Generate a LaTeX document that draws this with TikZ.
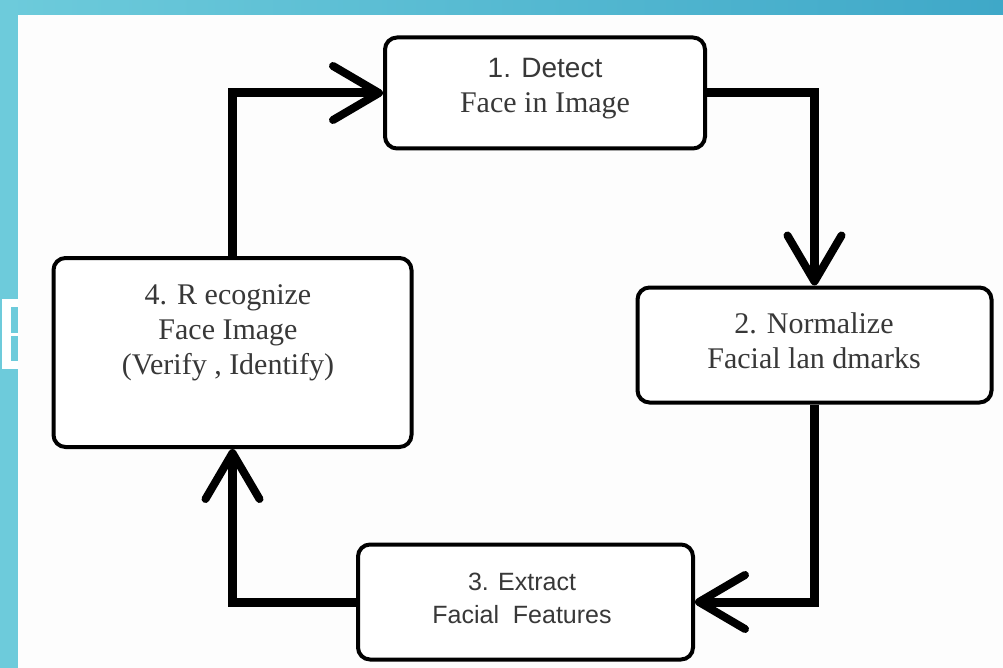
\documentclass[tikz,border=0pt]{standalone}
\usepackage{fontspec}
\setmainfont{Liberation Serif}
\newfontfamily\sansf{Liberation Sans}
\usetikzlibrary{arrows.meta}
\definecolor{tealL}{HTML}{6DCBDB}
\definecolor{tealR}{HTML}{3FA8C8}
\definecolor{txt}{HTML}{383838}
\definecolor{paper}{HTML}{FDFDFD}
\tikzset{
  box/.style={draw=black, line width=4pt, rounded corners=12pt, fill=white, inner sep=0pt},
  lbl/.style={text=txt, align=center, inner sep=0pt, font=\fontsize{30}{35}\selectfont},
  conn/.style={line width=9pt, line join=miter, draw=black,
    -{Straight Barb[length=46pt, width=54pt, line width=8pt, round]}}
}
\begin{document}
\begin{tikzpicture}[x=1pt,y=-1pt]
\useasboundingbox (0,0) rectangle (1003,668);
\fill[paper] (0,0) rectangle (1003,668);
\shade[left color=tealL, right color=tealR] (0,0) rectangle (1003,15);
\fill[tealL] (0,0) rectangle (18,668);
% white letter fragment at left edge
\fill[white] (2,299) rectangle (18,369);
\fill[tealL] (11,307) rectangle (18,333);
\fill[tealL] (11,336) rectangle (18,361);

\node[box, minimum width=320pt, minimum height=111pt] (n1) at (545,93) {};
\node[box, minimum width=354pt, minimum height=115pt] (n2) at (814.5,345) {};
\node[box, minimum width=335pt, minimum height=115pt] (n3) at (525.5,602) {};
\node[box, minimum width=358pt, minimum height=189pt] (n4) at (232.5,352.5) {};

\node[lbl] (t1) at (545,89) {{\sansf\fontsize{28}{35}\selectfont 1. Detect}\\Face in Image};
\node[lbl] (t2) at (814,341) {2. Normalize\\Facial lan dmarks};
\node[lbl, font=\sansf\fontsize{25}{33}\selectfont] (t3) at (522,598) {3. Extract\\Facial\ \ Features};
\node[lbl] (t4) at (228,333) {4. R ecognize\\Face Image\\(Verify , Identify)};

\draw[conn] (n4.north) |- (n1.west);
\draw[conn] (n1.east) -| (n2.north);
\draw[conn] (n2.south) |- (n3.east);
\draw[conn] (n3.west) -| (n4.south);
\end{tikzpicture}
\end{document}
